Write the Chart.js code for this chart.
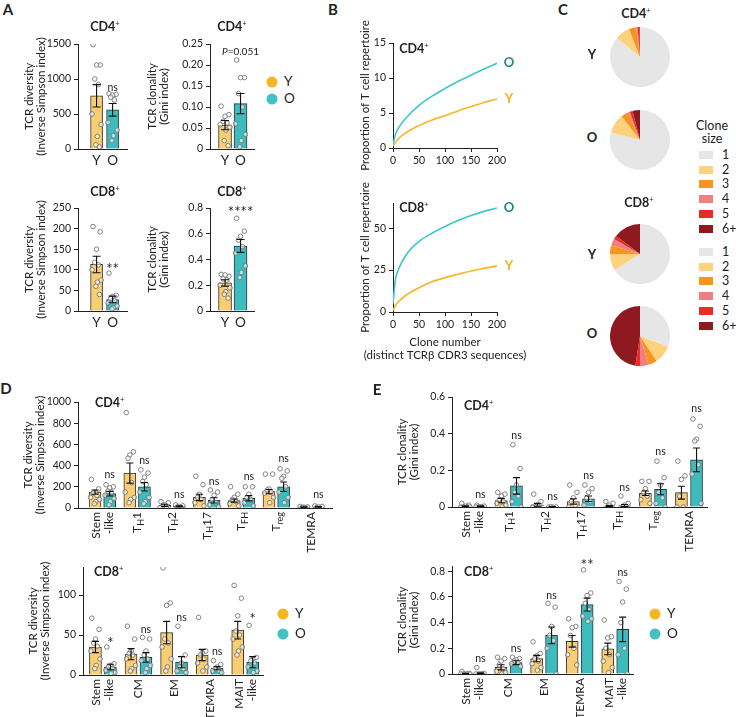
<!DOCTYPE html>
<html>
<head>
<meta charset="utf-8">
<script src="https://cdn.jsdelivr.net/npm/chart.js@4.4.0/dist/chart.umd.min.js"></script>
<style>
body { margin: 0; background: #fff; }
#fig { position: relative; width: 736px; height: 717px; overflow: hidden; font-family: Lato, 'Open Sans', sans-serif; color: #222; }
.t { position: absolute; white-space: nowrap; line-height: 1; transform: translate(-50%, -50%); }
.tl { position: absolute; white-space: nowrap; line-height: 1; transform: translate(0, -50%); }
sup { font-size: 7.5px; vertical-align: 5px; font-weight: normal; }
.dot { position: absolute; width: 11px; height: 11px; border-radius: 50%; transform: translate(-50%, -50%); }
.sq { position: absolute; width: 14px; height: 8px; transform: translate(-50%, -50%); }
</style>
</head>
<body>
<div id="fig"></div>
<script>
// ---------------- data ----------------
const groups = ['Y', 'O'];

// A - whole CD4 / CD8 repertoire
const aCd4DivMean = [760, 560];
const aCd4DivSem = [160, 90];
const aCd4DivPtsY = [1490, 1200, 1200, 1000, 920, 500, 350, 180, 60, 30];
const aCd4DivPtsO = [790, 780, 770, 740, 700, 380, 270, 190, 120];
const aCd4DivSig = [null, ['ns', 880]];

const aCd4CloMean = [0.057, 0.108];
const aCd4CloSem = [0.011, 0.024];
const aCd4CloPtsY = [0.102, 0.082, 0.078, 0.066, 0.062, 0.058, 0.052, 0.045, 0.02, 0.008];
const aCd4CloPtsO = [0.212, 0.17, 0.17, 0.132, 0.1, 0.06, 0.035, 0.02, 0.005];
const aCd4CloSig = [null, ['P=0.051', 0.232]];

const aCd8DivMean = [113, 28];
const aCd8DivSem = [20, 8];
const aCd8DivPtsY = [205, 192, 150, 118, 112, 100, 75, 70, 60, 40];
const aCd8DivPtsO = [92, 38, 35, 30, 25, 20, 12, 8, 5];
const aCd8DivSig = [null, ['**', 108]];

const aCd8CloMean = [0.218, 0.505];
const aCd8CloSem = [0.025, 0.05];
const aCd8CloPtsY = [0.285, 0.27, 0.28, 0.25, 0.24, 0.2, 0.18, 0.15, 0.13, 0.1];
const aCd8CloPtsO = [0.72, 0.62, 0.58, 0.55, 0.5, 0.45, 0.35, 0.3, 0.26];
const aCd8CloSig = [null, ['****', 0.79]];

// B - cumulative proportion of repertoire vs clone number
const cloneNum = [0, 5, 10, 25, 50, 75, 100, 125, 150, 175, 200];
const bCd4Y = [0.3, 0.8, 1.3, 2.2, 3.2, 4.0, 4.6, 5.3, 5.9, 6.5, 7.0];
const bCd4O = [0.5, 2.0, 2.8, 4.3, 6.1, 7.4, 8.5, 9.5, 10.4, 11.3, 12.1];
const bCd8Y = [1, 4, 6, 10, 14.5, 18, 20.5, 22.5, 24.5, 26, 27.5];
const bCd8O = [5, 20, 25, 34, 42, 47, 51, 54.5, 57.5, 60, 62];
const bXTicks = [0, 50, 100, 150, 200];

// C - clone size share (%)
const cloneSizes = ['1', '2', '3', '4', '5', '6+'];
const cCd4Y = [86, 8, 4, 0.7, 1, 0.3];
const cCd4O = [79, 10.5, 4, 1, 1.5, 4];
const cCd8Y = [66, 9, 4.7, 3.6, 2, 14.7];
const cCd8O = [31, 9.7, 4.7, 4.4, 2.7, 47.5];

// D - diversity per subset
const dCd4Cats = ['Stem\n-like', 'T_{H}1', 'T_{H}2', 'T_{H}17', 'T_{FH}', 'T_{reg}', 'TEMRA'];
const dCd4MeanY = [150, 330, 25, 100, 70, 155, 8];
const dCd4SemY = [20, 95, 10, 30, 15, 20, 3];
const dCd4MeanO = [135, 200, 15, 72, 92, 200, 10];
const dCd4SemO = [22, 40, 5, 25, 25, 45, 3];
const dCd4PtsY = [[270, 180, 150, 140, 120, 100, 80, 60, 40], [900, 530, 500, 470, 240, 150, 100, 80, 50], [60, 50, 30, 20, 10, 5], [300, 220, 130, 100, 80, 50, 20], [200, 130, 100, 80, 60, 40, 20], [320, 320, 180, 170, 150, 140, 100, 50], [15, 10, 8, 5, 3]];
const dCd4PtsO = [[220, 200, 190, 160, 150, 120, 90, 60, 30], [360, 330, 290, 250, 220, 150, 100, 60, 40], [30, 20, 15, 10, 5], [170, 150, 120, 80, 50, 30, 10], [200, 200, 130, 100, 80, 50, 20], [370, 350, 300, 280, 200, 150, 100, 50], [20, 15, 10, 5]];
const dCd4Sig = [['ns', 315], ['ns', 450], ['ns', 123], ['ns', 250], ['ns', 300], ['ns', 470], ['ns', 130]];

const dCd8Cats = ['Stem\n-like', 'CM', 'EM', 'TEMRA', 'MAIT\n-like'];
const dCd8MeanY = [35, 26, 53, 25, 56];
const dCd8SemY = [7, 7, 14, 7, 11];
const dCd8MeanO = [10, 22, 16, 8.5, 16];
const dCd8SemO = [3.5, 6, 7, 2, 7];
const dCd8PtsY = [[71, 57, 45, 40, 36, 30, 20, 12, 8], [61, 45, 30, 27, 25, 20, 12, 8, 5], [134, 90, 87, 45, 40, 35, 20, 10, 5], [72, 30, 28, 25, 20, 15, 10, 5], [112, 96, 74, 55, 50, 45, 35, 30, 25]];
const dCd8PtsO = [[35, 14, 12, 10, 8, 6, 3, 2], [47, 45, 30, 25, 20, 18, 12, 8, 3], [61, 25, 15, 10, 8, 5, 3], [18, 13, 10, 8, 6, 5, 3], [62, 22, 20, 18, 15, 10, 5, 3]];
const dCd8Sig = [['*', 44], ['ns', 57], ['ns', 72], ['ns', 29], ['*', 74]];

// E - clonality per subset
const eCd4MeanY = [0.004, 0.035, 0.012, 0.03, 0.005, 0.075, 0.078];
const eCd4SemY = [0.002, 0.012, 0.008, 0.015, 0.003, 0.012, 0.035];
const eCd4MeanO = [0.004, 0.115, 0.002, 0.045, 0.008, 0.097, 0.257];
const eCd4SemO = [0.002, 0.045, 0.001, 0.015, 0.006, 0.03, 0.065];
const eCd4PtsY = [[0.02, 0.01, 0.005, 0, 0, 0, 0], [0.08, 0.07, 0.06, 0.04, 0.03, 0.02, 0.01, 0], [0.07, 0.03, 0.01, 0, 0, 0], [0.12, 0.08, 0.05, 0.03, 0.01, 0], [0.03, 0.02, 0.01, 0, 0], [0.14, 0.14, 0.1, 0.08, 0.06, 0.04, 0.02], [0.25, 0.17, 0.15, 0.06, 0, 0]];
const eCd4PtsO = [[0.01, 0.005, 0, 0, 0, 0], [0.34, 0.21, 0.12, 0.08, 0.06, 0.03, 0], [0, 0, 0, 0], [0.12, 0.1, 0.08, 0.05, 0.03, 0.01], [0.06, 0.02, 0.01, 0, 0], [0.25, 0.16, 0.12, 0.08, 0.05, 0.02, 0], [0.48, 0.44, 0.37, 0.36, 0.23, 0.18, 0.02]];
const eCd4Sig = [['ns', 0.07], ['ns', 0.39], ['ns', 0.056], ['ns', 0.17], ['ns', 0.105], ['ns', 0.3], ['ns', 0.535]];

const eCd8MeanY = [0.003, 0.052, 0.12, 0.254, 0.195];
const eCd8SemY = [0.002, 0.02, 0.025, 0.045, 0.045];
const eCd8MeanO = [0.005, 0.088, 0.30, 0.54, 0.347];
const eCd8SemO = [0.004, 0.015, 0.065, 0.05, 0.095];
const eCd8PtsY = [[0.02, 0.005, 0, 0, 0, 0, 0], [0.13, 0.12, 0.1, 0.07, 0.04, 0.02, 0.01, 0], [0.25, 0.16, 0.14, 0.12, 0.1, 0.08, 0.05, 0.03], [0.43, 0.37, 0.36, 0.3, 0.2, 0.15, 0.07], [0.42, 0.29, 0.28, 0.2, 0.15, 0.1, 0.05, 0.01]];
const eCd8PtsO = [[0.05, 0.005, 0, 0, 0, 0], [0.13, 0.12, 0.11, 0.1, 0.09, 0.08, 0.06], [0.55, 0.52, 0.37, 0.3, 0.26, 0.2, 0], [0.81, 0.63, 0.61, 0.55, 0.5, 0.45, 0.43, 0.41], [0.72, 0.66, 0.56, 0.4, 0.2, 0.15, 0]];
const eCd8Sig = [['ns', 0.117], ['ns', 0.2], ['ns', 0.61], ['**', 0.87], ['ns', 0.79]];

// ---------------- styling ----------------
const FONT = "Lato, 'Open Sans', sans-serif";
const Y_FILL = '#F9CD72', O_FILL = '#3DBCBF';
const Y_DOT = '#F8B522', O_DOT = '#43C2C5';
const Y_LINE = '#F8B628', O_LINE = '#3CC8CC';
const PIE_COLORS = ['#E6E6E6', '#FDD17E', '#F7941F', '#F08080', '#EC2B25', '#8E1A1F'];
const JIT = [-0.3, 0.3, 0, -0.15, 0.15, -0.38, 0.38, 0.06, -0.06, 0.24];

Chart.defaults.font.family = FONT;
Chart.defaults.color = '#222';

const fig = document.getElementById('fig');

function addCanvas(left, top, w, h) {
    const c = document.createElement('canvas');
    c.width = w;
    c.height = h;
    c.style.cssText = 'position:absolute;left:' + left + 'px;top:' + top + 'px;width:' + w + 'px;height:' + h + 'px';
    fig.appendChild(c);
    return c;
}

function txt(html, x, y, css, cls) {
    const d = document.createElement('div');
    d.className = cls || 't';
    d.innerHTML = html;
    d.style.cssText = 'left:' + x + 'px;top:' + y + 'px;' + (css || '');
    fig.appendChild(d);
    return d;
}

function parseLabel(s) {
    const out = [];
    s.replace(/_\{([^}]*)\}|([^_]+)/g, function (m, sub, nor) {
        out.push(sub !== undefined ? { t: sub, sub: true } : { t: nor, sub: false });
        return m;
    });
    return out;
}

function drawYTitle(ctx, lines, x, ca) {
    ctx.save();
    ctx.fillStyle = '#222';
    ctx.font = '11.5px ' + FONT;
    ctx.textAlign = 'center';
    ctx.textBaseline = 'middle';
    ctx.translate(x, (ca.top + ca.bottom) / 2);
    ctx.rotate(-Math.PI / 2);
    lines.forEach((ln, i) => ctx.fillText(ln, 0, i * 12.5));
    ctx.restore();
}

function drawSig(ctx, text, x, y) {
    ctx.fillStyle = '#222';
    ctx.textBaseline = 'middle';
    if (text.indexOf('P=') === 0) {
        ctx.font = 'italic 10px ' + FONT;
        const w1 = ctx.measureText('P').width;
        ctx.font = '10px ' + FONT;
        const rest = text.slice(1);
        const w2 = ctx.measureText(rest).width;
        const x0 = x - (w1 + w2) / 2;
        ctx.textAlign = 'left';
        ctx.font = 'italic 10px ' + FONT;
        ctx.fillText('P', x0, y);
        ctx.font = '10px ' + FONT;
        ctx.fillText(rest, x0 + w1, y);
    } else if (text.charAt(0) === '*') {
        ctx.textAlign = 'center';
        ctx.font = '15px ' + FONT;
        ctx.fillText(text, x, y + 3);
    } else {
        ctx.textAlign = 'center';
        ctx.font = '10.5px ' + FONT;
        ctx.fillText(text, x, y);
    }
}

function axisStyle() {
    return {
        grid: { display: true, drawOnChartArea: false, tickLength: 4, color: '#222', lineWidth: 1 },
        border: { display: true, color: '#222', width: 1 }
    };
}

// bar + dots + sem chart on a linear x axis (category i at x = i)
function barChart(g) {
    const left = g.axisX - g.yw, top = g.top - g.padTop;
    const w = g.right - g.axisX + g.yw + g.padRight;
    const h = g.bottom - g.top + g.padTop + g.xh;
    const cv = addCanvas(left, top, w, h);
    const unit = (g.right - g.axisX) / (g.xMax - g.xMin);
    const datasets = [];
    g.series.forEach(s => {
        datasets.push({
            type: 'bar',
            data: s.mean.map((v, i) => ({ x: i + s.off, y: v })),
            backgroundColor: s.color,
            borderColor: '#333',
            borderWidth: 1,
            borderSkipped: 'bottom',
            barThickness: g.barW,
            grouped: false,
            order: 2
        });
        const pts = [];
        s.pts.forEach((list, i) => list.forEach((v, k) => {
            pts.push({ x: i + s.off + JIT[k % JIT.length] * g.barW / unit, y: v });
        }));
        datasets.push({
            type: 'scatter',
            data: pts,
            pointRadius: 2.3,
            pointBackgroundColor: 'rgba(255,255,255,0.6)',
            pointBorderColor: '#777',
            pointBorderWidth: 0.9,
            order: 1
        });
    });

    const ax = axisStyle();
    new Chart(cv, {
        type: 'bar',
        data: { datasets: datasets },
        options: {
            responsive: false,
            animation: false,
            layout: { padding: { top: g.padTop, right: g.padRight, left: 0, bottom: 0 } },
            plugins: { legend: { display: false }, tooltip: { enabled: false } },
            scales: {
                x: {
                    type: 'linear', min: g.xMin, max: g.xMax, offset: false,
                    grid: { display: false, drawTicks: false },
                    border: ax.border,
                    afterBuildTicks: s => { s.ticks = (g.xLabels || g.cats).map((_, i) => ({ value: i })); },
                    ticks: {
                        display: !!g.xLabels, autoSkip: false, maxRotation: 0, padding: 4,
                        font: { size: 13.5 }, color: '#222',
                        callback: v => g.xLabels ? g.xLabels[Math.round(v)] : ''
                    },
                    afterFit: s => { s.height = g.xh; }
                },
                y: {
                    min: 0, max: g.yMax,
                    grid: ax.grid, border: ax.border,
                    afterBuildTicks: s => { s.ticks = g.yTicks.map(v => ({ value: v })); },
                    ticks: {
                        font: { size: 10.5 }, color: '#222', padding: 3,
                        callback: v => v === 0 ? '0' : v.toFixed(g.yDec)
                    },
                    afterFit: s => { s.width = g.yw; }
                }
            }
        },
        plugins: [{
            id: 'barExtras',
            afterDatasetsDraw(chart) {
                const ctx = chart.ctx, xs = chart.scales.x, ys = chart.scales.y;
                ctx.save();
                ctx.strokeStyle = '#111';
                ctx.lineWidth = 1.1;
                g.series.forEach(s => s.mean.forEach((m, i) => {
                    const e = s.sem[i];
                    if (!e) return;
                    const x = xs.getPixelForValue(i + s.off);
                    const y1 = ys.getPixelForValue(Math.max(m - e, 0));
                    const y2 = ys.getPixelForValue(m + e);
                    ctx.beginPath();
                    ctx.moveTo(x, y1); ctx.lineTo(x, y2);
                    ctx.moveTo(x - g.cap, y1); ctx.lineTo(x + g.cap, y1);
                    ctx.moveTo(x - g.cap, y2); ctx.lineTo(x + g.cap, y2);
                    ctx.stroke();
                }));
                g.sig.forEach((sg, i) => {
                    if (!sg) return;
                    drawSig(ctx, sg[0], xs.getPixelForValue(i + g.sigOff), ys.getPixelForValue(sg[1]));
                });
                ctx.restore();
            },
            afterDraw(chart) {
                const ctx = chart.ctx, xs = chart.scales.x;
                drawYTitle(ctx, g.yTitle, g.titleX - left, chart.chartArea);
                if (!g.cats) return;
                ctx.save();
                ctx.fillStyle = '#222';
                ctx.textBaseline = 'middle';
                ctx.textAlign = 'left';
                g.cats.forEach((lab, i) => {
                    const lines = lab.split('\n');
                    const x0 = xs.getPixelForValue(i);
                    lines.forEach((ln, li) => {
                        const ps = parseLabel(ln);
                        let tot = 0;
                        ps.forEach(p => {
                            ctx.font = (p.sub ? '9px ' : '12px ') + FONT;
                            p.w = ctx.measureText(p.t).width;
                            tot += p.w;
                        });
                        ctx.save();
                        ctx.translate(x0 + (li - (lines.length - 1) / 2) * 13, xs.top + 4);
                        ctx.rotate(-Math.PI / 2);
                        let cx = -tot;
                        ps.forEach(p => {
                            ctx.font = (p.sub ? '9px ' : '12px ') + FONT;
                            ctx.fillText(p.t, cx, p.sub ? 3.5 : 0);
                            cx += p.w;
                        });
                        ctx.restore();
                    });
                });
                ctx.restore();
            }
        }]
    });
}

function lineChart(g) {
    const left = g.axisX - g.yw, top = g.top - g.padTop;
    const w = g.right - g.axisX + g.yw + g.padRight;
    const h = g.bottom - g.top + g.padTop + g.xh;
    const cv = addCanvas(left, top, w, h);
    const ax = axisStyle();
    new Chart(cv, {
        type: 'line',
        data: {
            datasets: g.series.map(s => ({
                data: cloneNum.map((x, i) => ({ x: x, y: s.vals[i] })),
                borderColor: s.color,
                borderWidth: 1.6,
                pointRadius: 0,
                cubicInterpolationMode: 'monotone',
                fill: false
            }))
        },
        options: {
            responsive: false,
            animation: false,
            layout: { padding: { top: g.padTop, right: g.padRight, left: 0, bottom: 0 } },
            plugins: { legend: { display: false }, tooltip: { enabled: false } },
            scales: {
                x: {
                    type: 'linear', min: 0, max: 200,
                    grid: ax.grid, border: ax.border,
                    afterBuildTicks: s => { s.ticks = bXTicks.map(v => ({ value: v })); },
                    ticks: { font: { size: 10.5 }, color: '#222', padding: 2, maxRotation: 0, callback: v => String(v) },
                    afterFit: s => { s.height = g.xh; }
                },
                y: {
                    min: 0, max: g.yMax,
                    grid: ax.grid, border: ax.border,
                    afterBuildTicks: s => { s.ticks = g.yTicks.map(v => ({ value: v })); },
                    ticks: { font: { size: 10.5 }, color: '#222', padding: 3, callback: v => String(v) },
                    afterFit: s => { s.width = g.yw; }
                }
            }
        },
        plugins: [{
            id: 'lineExtras',
            afterDraw(chart) {
                const ctx = chart.ctx, ca = chart.chartArea;
                drawYTitle(ctx, g.yTitle, g.titleX - left, ca);
                ctx.save();
                ctx.textAlign = 'center';
                ctx.textBaseline = 'middle';
                ctx.font = 'bold 13px ' + FONT;
                g.series.forEach((s, i) => {
                    const pts = chart.getDatasetMeta(i).data;
                    const p = pts[pts.length - 1];
                    ctx.fillStyle = s.labelColor;
                    ctx.fillText(s.name, p.x + 12, p.y);
                });
                if (g.xTitle) {
                    ctx.fillStyle = '#222';
                    ctx.font = '11.5px ' + FONT;
                    g.xTitle.forEach((ln, i) => ctx.fillText(ln, (ca.left + ca.right) / 2, ca.bottom + 30 + i * 13));
                }
                ctx.restore();
            }
        }]
    });
}

function pie(vals, cx, cy) {
    const cv = addCanvas(cx - 31, cy - 31, 62, 62);
    new Chart(cv, {
        type: 'pie',
        data: { labels: cloneSizes, datasets: [{ data: vals, backgroundColor: PIE_COLORS, borderWidth: 0 }] },
        options: {
            responsive: false, animation: false,
            layout: { padding: 1 },
            plugins: { legend: { display: false }, tooltip: { enabled: false } }
        }
    });
}

// ---------------- panel A ----------------
const divTitle = ['TCR diversity', '(Inverse Simpson index)'];
const cloTitle = ['TCR clonality', '(Gini index)'];

function aChart(geo, mean, sem, ptsY, ptsO, sig) {
    barChart(Object.assign({
        yw: 66, xh: 22, padTop: 12, padRight: 6, barW: 12, cap: 4, sigOff: 0,
        xLabels: groups,
        series: [{ mean: mean, sem: sem, pts: [ptsY, ptsO], color: [Y_FILL, O_FILL], off: 0 }],
        sig: sig
    }, geo));
}

aChart({ axisX: 78, right: 127, top: 44, bottom: 149, xMin: -1.16, xMax: 1.9, yMax: 1500, yTicks: [0, 500, 1000, 1500], yDec: 0, yTitle: divTitle, titleX: 29 },
    aCd4DivMean, aCd4DivSem, aCd4DivPtsY, aCd4DivPtsO, aCd4DivSig);
aChart({ axisX: 210, right: 254, top: 44, bottom: 149, xMin: -0.97, xMax: 1.87, barW: 13, yMax: 0.25, yTicks: [0, 0.05, 0.1, 0.15, 0.2, 0.25], yDec: 2, yTitle: cloTitle, titleX: 152 },
    aCd4CloMean, aCd4CloSem, aCd4CloPtsY, aCd4CloPtsO, aCd4CloSig);
aChart({ axisX: 78, right: 127, top: 208, bottom: 311, xMin: -1.16, xMax: 1.9, yMax: 250, yTicks: [0, 50, 100, 150, 200, 250], yDec: 0, yTitle: divTitle, titleX: 29 },
    aCd8DivMean, aCd8DivSem, aCd8DivPtsY, aCd8DivPtsO, aCd8DivSig);
aChart({ axisX: 210, right: 254, top: 208, bottom: 311, xMin: -0.97, xMax: 1.87, barW: 13, yMax: 0.8, yTicks: [0, 0.2, 0.4, 0.6, 0.8], yDec: 1, yTitle: cloTitle, titleX: 152 },
    aCd8CloMean, aCd8CloSem, aCd8CloPtsY, aCd8CloPtsO, aCd8CloSig);

// ---------------- panel B ----------------
const propTitle = ['Proportion of T cell repertoire'];
lineChart({
    axisX: 393, right: 497, top: 43, bottom: 148, yw: 38, xh: 32, padTop: 40, padRight: 32,
    yMax: 15, yTicks: [0, 5, 10, 15], yTitle: propTitle, titleX: 365,
    series: [{ name: 'O', vals: bCd4O, color: O_LINE, labelColor: '#1D8A8D' }, { name: 'Y', vals: bCd4Y, color: Y_LINE, labelColor: '#F6B21E' }]
});
lineChart({
    axisX: 393, right: 497, top: 203, bottom: 312, yw: 38, xh: 56, padTop: 40, padRight: 32,
    yMax: 65, yTicks: [0, 25, 50], yTitle: propTitle, titleX: 365,
    xTitle: ['Clone number', '(distinct TCR\u03b2 CDR3 sequences)'],
    series: [{ name: 'O', vals: bCd8O, color: O_LINE, labelColor: '#1D8A8D' }, { name: 'Y', vals: bCd8Y, color: Y_LINE, labelColor: '#F6B21E' }]
});

// ---------------- panel C ----------------
pie(cCd4Y, 640, 57);
pie(cCd4O, 640, 140);
pie(cCd8Y, 640, 254);
pie(cCd8O, 640, 336);

// ---------------- panel D / E ----------------
function subsetChart(geo, cats, mY, sY, pY, mO, sO, pO, sig) {
    barChart(Object.assign({
        yw: 62, xh: 50, padTop: 14, padRight: 6, barW: 12, cap: 3.5, sigOff: 0.21,
        cats: cats,
        series: [
            { mean: mY, sem: sY, pts: pY, color: Y_FILL, off: -0.21 },
            { mean: mO, sem: sO, pts: pO, color: O_FILL, off: 0.21 }
        ],
        sig: sig
    }, geo));
}

subsetChart({ axisX: 78, right: 332, top: 402, bottom: 508, xMin: -0.7, xMax: 6.6, yMax: 1000, yTicks: [0, 200, 400, 600, 800, 1000], yDec: 0, yTitle: divTitle, titleX: 28 },
    dCd4Cats, dCd4MeanY, dCd4SemY, dCd4PtsY, dCd4MeanO, dCd4SemO, dCd4PtsO, dCd4Sig);
subsetChart({ axisX: 83, right: 263, top: 567, bottom: 675, xMin: -0.56, xMax: 4.5, yMax: 135, yTicks: [0, 50, 100], yDec: 0, yTitle: divTitle, titleX: 33 },
    dCd8Cats, dCd8MeanY, dCd8SemY, dCd8PtsY, dCd8MeanO, dCd8SemO, dCd8PtsO, dCd8Sig);
subsetChart({ axisX: 452, right: 707, top: 397, bottom: 507, xMin: -0.58, xMax: 6.5, yMax: 0.6, yTicks: [0, 0.2, 0.4, 0.6], yDec: 1, yTitle: cloTitle, titleX: 402 },
    dCd4Cats, eCd4MeanY, eCd4SemY, eCd4PtsY, eCd4MeanO, eCd4SemO, eCd4PtsO, eCd4Sig);
subsetChart({ axisX: 452, right: 633, top: 566, bottom: 674, xMin: -0.59, xMax: 4.5, yMax: 0.84, yTicks: [0, 0.2, 0.4, 0.6, 0.8], yDec: 1, yTitle: cloTitle, titleX: 402 },
    dCd8Cats, eCd8MeanY, eCd8SemY, eCd8PtsY, eCd8MeanO, eCd8SemO, eCd8PtsO, eCd8Sig);

// ---------------- text, headers, legends ----------------
const L = 'font-size:15px;font-weight:bold;';
txt('A', 8, 9, L); txt('B', 333, 9, L); txt('C', 563, 9, L); txt('D', 6, 388, L); txt('E', 377, 389, L);

const H = 'font-size:12.5px;font-weight:bold;';
txt('CD4<sup>+</sup>', 105, 27, H); txt('CD4<sup>+</sup>', 232, 27, H);
txt('CD8<sup>+</sup>', 105, 192, H); txt('CD8<sup>+</sup>', 232, 192, H);
txt('CD4<sup>+</sup>', 414, 49, H); txt('CD8<sup>+</sup>', 414, 208, H);
txt('CD4<sup>+</sup>', 636, 14, H); txt('CD8<sup>+</sup>', 639, 203, H);
txt('CD4<sup>+</sup>', 95, 403, H, 'tl'); txt('CD8<sup>+</sup>', 94, 572, H, 'tl');
txt('CD4<sup>+</sup>', 464, 406, H, 'tl'); txt('CD8<sup>+</sup>', 464, 572, H, 'tl');

const G = 'font-size:13px;font-weight:bold;';
txt('Y', 592, 54, G); txt('O', 592, 137, G); txt('Y', 592, 254, G); txt('O', 592, 333, G);

function yoLegend(x, y1, y2) {
    [[groups[0], Y_DOT, y1], [groups[1], O_DOT, y2]].forEach(it => {
        const d = document.createElement('div');
        d.className = 'dot';
        d.style.cssText = 'left:' + x + 'px;top:' + it[2] + 'px;background:' + it[1];
        fig.appendChild(d);
        txt(it[0], x + 12, it[2], 'font-size:13.5px;', 'tl');
    });
}
yoLegend(272, 82, 99);
yoLegend(283, 614, 634);
yoLegend(655, 614, 634);

txt('Clone', 712, 126, 'font-size:12.5px;');
txt('size', 712, 139, 'font-size:12.5px;');
[155, 252].forEach(y0 => {
    cloneSizes.forEach((lab, i) => {
        const y = y0 + i * 14.7;
        const d = document.createElement('div');
        d.className = 'sq';
        d.style.cssText = 'left:706px;top:' + y + 'px;background:' + PIE_COLORS[i];
        fig.appendChild(d);
        txt(lab, 722, y, 'font-size:12.5px;', 'tl');
    });
});
</script>
</body>
</html>
